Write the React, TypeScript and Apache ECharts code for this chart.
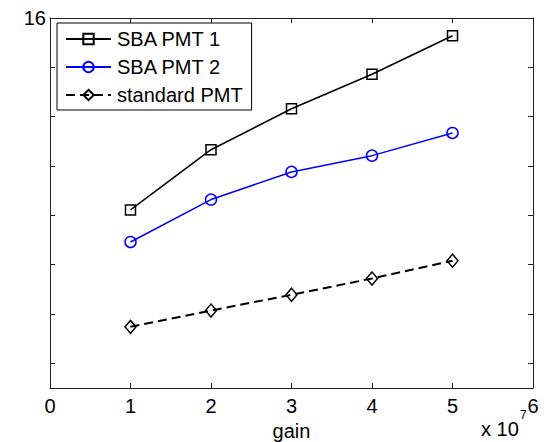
import React, { useEffect, useRef } from "react";
import * as echarts from "echarts";

const gain = [1e7, 2e7, 3e7, 4e7, 5e7];
const sbaPmt1 = [12.11, 13.33, 14.16, 14.86, 15.64];
const sbaPmt2 = [11.46, 12.32, 12.88, 13.21, 13.67];
const standardPmt = [9.74, 10.07, 10.39, 10.72, 11.08];
const seriesNames = ["SBA PMT 1", "SBA PMT 2", "standard PMT"];
const yTopLabel = "16";

const FONT = "'Liberation Sans', Arial, sans-serif";
const AX = "#222";

export default function App() {
  const ref = useRef<HTMLDivElement>(null);
  useEffect(() => {
    document.body.style.margin = "0";
    if (!ref.current) return;
    const chart = echarts.init(ref.current, undefined, { renderer: "svg" });
    const pair = (ys: number[]) => gain.map((g, i) => [g, ys[i]]);
    const xBase = {
      type: "value",
      min: 0,
      max: 6e7,
      interval: 1e7,
      splitLine: { show: false },
      axisLine: { show: true, onZero: false, lineStyle: { color: AX, width: 1 } },
      axisTick: { show: true, inside: true, length: 5, lineStyle: { color: AX } },
    };
    const yBase = {
      type: "value",
      min: 8.5,
      max: 16,
      splitNumber: 8,
      scale: true,
      splitLine: { show: false },
      axisLine: { show: true, onZero: false, lineStyle: { color: AX, width: 1 } },
      axisTick: { show: true, inside: true, length: 5, lineStyle: { color: AX } },
    };
    chart.setOption({
      animation: false,
      backgroundColor: "#fff",
      textStyle: { fontFamily: FONT },
      grid: { left: 50, right: 15, top: 18, bottom: 54, containLabel: false, outerBoundsMode: "none" },
      xAxis: [
        {
          ...xBase,
          position: "bottom",
          name: "gain",
          nameLocation: "middle",
          nameGap: 29,
          nameTextStyle: { color: "#000", fontSize: 20, fontFamily: FONT },
          axisLabel: {
            color: "#000",
            fontSize: 20,
            fontFamily: FONT,
            margin: 8,
            formatter: (v: number) => String(Math.round(v / 1e7)),
          },
        },
        { ...xBase, position: "top", axisLabel: { show: false } },
      ],
      yAxis: [
        {
          ...yBase,
          position: "left",
          axisLabel: {
            color: "#000",
            fontSize: 20,
            fontFamily: FONT,
            margin: 4,
            formatter: (v: number) => (Math.abs(v - 16) < 1e-9 ? yTopLabel : ""),
          },
        },
        { ...yBase, position: "right", axisLabel: { show: false } },
      ],
      legend: {
        orient: "vertical",
        left: 57,
        top: 23,
        padding: [6, 9, 5, 8],
        itemGap: 8,
        itemWidth: 45,
        itemHeight: 13,
        backgroundColor: "#fff",
        borderColor: "#000",
        borderWidth: 1,
        borderRadius: 0,
        textStyle: { color: "#000", fontSize: 20, fontFamily: FONT, padding: [0, 0, 0, 1] },
        data: seriesNames,
      },
      series: [
        {
          name: seriesNames[0],
          type: "line",
          data: pair(sbaPmt1),
          symbol: "rect",
          symbolSize: 10,
          lineStyle: { color: "#000", width: 1.5 },
          itemStyle: { color: "transparent", borderColor: "#000", borderWidth: 1.5 },
        },
        {
          name: seriesNames[1],
          type: "line",
          data: pair(sbaPmt2),
          symbol: "circle",
          symbolSize: 11,
          lineStyle: { color: "#0000ff", width: 1.5 },
          itemStyle: { color: "transparent", borderColor: "#0000ff", borderWidth: 1.5 },
        },
        {
          name: seriesNames[2],
          type: "line",
          data: pair(standardPmt),
          symbol: "diamond",
          symbolSize: [11, 13],
          lineStyle: { color: "#000", width: 2, type: [9, 5] },
          itemStyle: { color: "transparent", borderColor: "#000", borderWidth: 1.5 },
        },
      ],
      graphic: [
        {
          type: "text",
          x: 481,
          y: 429,
          style: { text: "x 10", fill: "#000", font: `20px ${FONT}`, verticalAlign: "middle" },
        },
        {
          type: "text",
          x: 520,
          y: 415,
          style: { text: "7", fill: "#000", font: `12px ${FONT}`, verticalAlign: "middle" },
        },
      ],
    });
    return () => chart.dispose();
  }, []);
  return <div ref={ref} style={{ width: 548, height: 442 }} />;
}
